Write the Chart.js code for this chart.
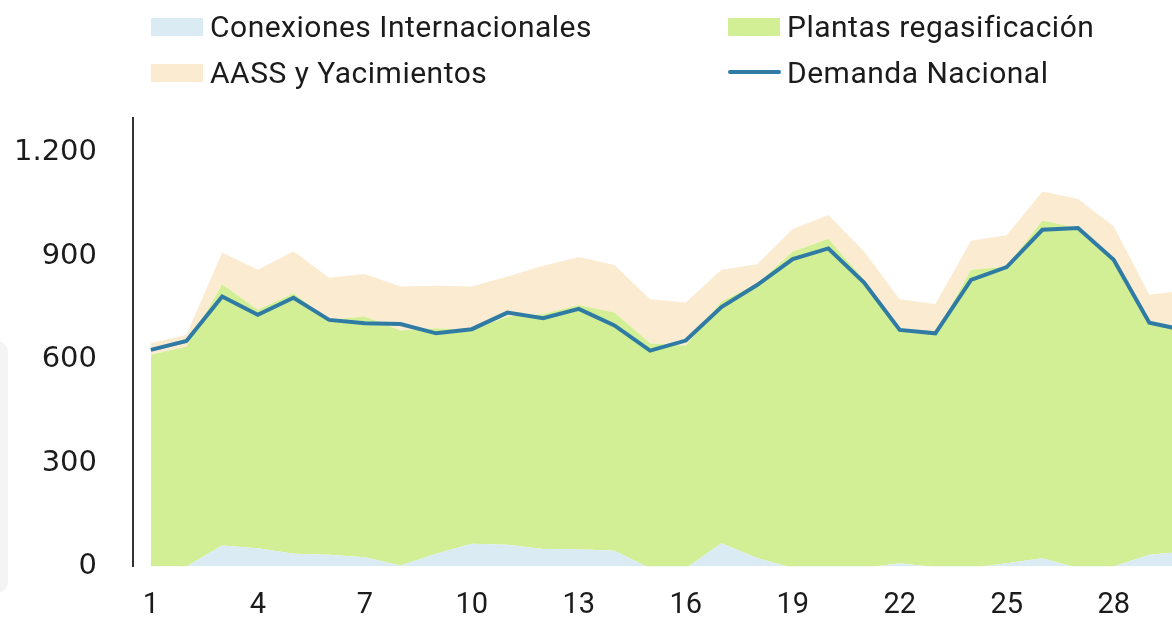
<!DOCTYPE html>
<html>
<head>
<meta charset="utf-8">
<script src="https://cdn.jsdelivr.net/npm/chart.js@4.4.1/dist/chart.umd.min.js"></script>
<style>
  html, body { margin: 0; padding: 0; background: #fff; }
  body { width: 1172px; height: 620px; overflow: hidden; position: relative; font-family: Roboto, "Noto Sans", sans-serif; }
  #wrap { position: absolute; left: 0; top: 0; width: 1207px; height: 620px; }
  #leyenda .item { position: absolute; height: 34px; line-height: 34px; font-size: 30px; letter-spacing: 0.5px; color: #1b1b1b; white-space: nowrap; }
  #leyenda .caja { position: absolute; left: 0; top: 8px; width: 52px; height: 18px; }
  #leyenda .raya { position: absolute; left: 0; top: 14px; width: 53px; height: 4px; border-radius: 2px; }
  #leyenda .txt { position: absolute; left: 59px; top: 0; }
  #marco { position: absolute; left: -14px; top: 341px; width: 22px; height: 252px; background: #f4f4f4; border-radius: 12px; }
</style>
</head>
<body>
<div id="marco"></div>
<div id="wrap"><canvas id="grafico"></canvas></div>
<div id="leyenda"></div>
<script>
// dias del mes
var dias = [];
for (var i = 1; i <= 30; i++) dias.push(String(i));

var conexiones = [0, 0, 61, 53, 37, 34, 27, 3, 37, 66, 63, 51, 50, 46, -5, -5, 68, 25, -4, -4, -4, 10, -2, -4, 10, 24, -4, 0, 34, 44];
var plantas = [614, 638, 757, 691, 755, 681, 698, 681, 654, 620, 662, 681, 708, 690, 652, 645, 700, 795, 917, 954, 835, 676, 676, 864, 860, 979, 985, 889, 666, 646];
var aass = [33, 34, 92, 116, 122, 122, 123, 128, 123, 126, 116, 140, 139, 138, 128, 125, 92, 56, 65, 69, 82, 89, 87, 84, 90, 84, 84, 97, 88, 110];
var demanda = [628, 654, 783, 730, 779, 715, 705, 703, 676, 688, 736, 720, 747, 699, 626, 655, 752, 816, 891, 922, 823, 686, 676, 831, 868, 976, 981, 889, 707, 685];

var marcasY = [0, 300, 600, 900, 1200];

var ctx = document.getElementById('grafico');

var chart = new Chart(ctx, {
  type: 'line',
  data: {
    labels: dias,
    datasets: [
      {
        label: 'Conexiones Internacionales',
        data: conexiones,
        stack: 'oferta',
        order: 1,
        backgroundColor: '#dbebf4',
        borderWidth: 0,
        pointRadius: 0,
        fill: 'origin'
      },
      {
        label: 'Plantas regasificación',
        data: plantas,
        stack: 'oferta',
        order: 1,
        backgroundColor: '#d3ef96',
        borderWidth: 0,
        pointRadius: 0,
        fill: '-1'
      },
      {
        label: 'AASS y Yacimientos',
        data: aass,
        stack: 'oferta',
        order: 1,
        backgroundColor: '#fbebd1',
        borderWidth: 0,
        pointRadius: 0,
        fill: '-1'
      },
      {
        label: 'Demanda Nacional',
        data: demanda,
        stack: 'demanda',
        order: 0,
        borderColor: '#2f7ba4',
        borderWidth: 4,
        pointRadius: 0,
        fill: false,
        tension: 0
      }
    ]
  },
  options: {
    responsive: true,
    maintainAspectRatio: false,
    animation: false,
    layout: { padding: { top: 118, right: 0, left: 0, bottom: 0 } },
    plugins: {
      legend: { display: false },
      tooltip: { enabled: false }
    },
    scales: {
      x: {
        offset: true,
        grid: { display: false, drawTicks: false },
        border: { display: false },
        ticks: {
          autoSkip: false,
          maxRotation: 0,
          padding: 22,
          color: '#1b1b1b',
          font: { family: 'Roboto', size: 29 },
          callback: function(v, i) { return i % 3 === 0 ? this.getLabelForValue(v) : ''; }
        },
        afterFit: function(s) { s.height = 53; }
      },
      y: {
        stacked: 'single',
        min: 0,
        max: 1300,
        grid: { display: false, drawTicks: false },
        border: { display: true, color: '#333', width: 2 },
        ticks: {
          padding: 36,
          color: '#1b1b1b',
          font: { family: 'DejaVu Sans', size: 29 },
          callback: function(v) { return v.toLocaleString('es-ES', { useGrouping: true }).replace(/\s/g, '.'); }
        },
        afterBuildTicks: function(s) { s.ticks = marcasY.map(function(v) { return { value: v }; }); },
        afterFit: function(s) { s.width = 133; }
      }
    }
  }
});

// leyenda en dos columnas
var posiciones = [[151, 10], [728, 10], [151, 56], [728, 56]];
var leyenda = document.getElementById('leyenda');
chart.data.datasets.forEach(function(ds, i) {
  var item = document.createElement('div');
  item.className = 'item';
  item.style.left = posiciones[i][0] + 'px';
  item.style.top = posiciones[i][1] + 'px';
  var marca = document.createElement('div');
  if (ds.fill === false) {
    marca.className = 'raya';
    marca.style.background = ds.borderColor;
  } else {
    marca.className = 'caja';
    marca.style.background = ds.backgroundColor;
  }
  var txt = document.createElement('span');
  txt.className = 'txt';
  txt.textContent = ds.label;
  item.appendChild(marca);
  item.appendChild(txt);
  leyenda.appendChild(item);
});
</script>
</body>
</html>
